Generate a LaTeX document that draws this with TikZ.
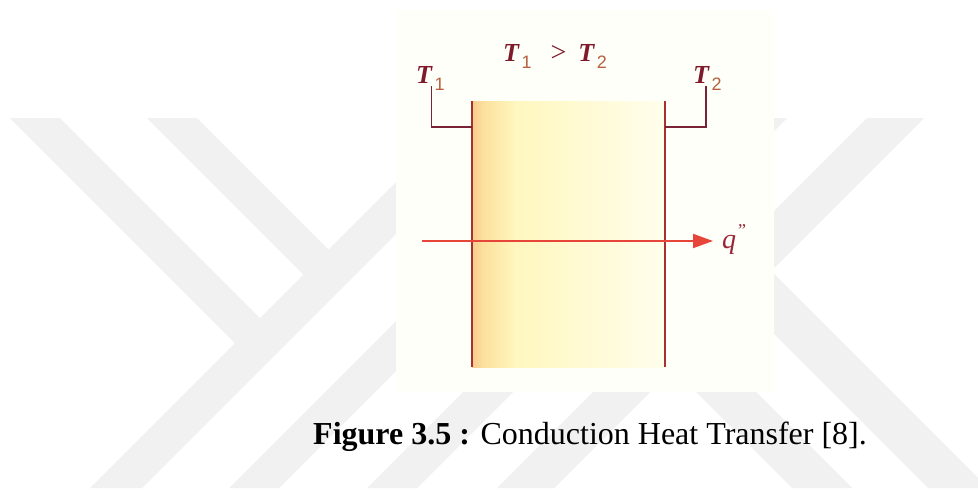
\documentclass[tikz,border=0pt]{standalone}
\usepackage{fontspec}
\setmainfont{Liberation Serif}
\setsansfont{Liberation Sans}
\usetikzlibrary{arrows.meta}
\definecolor{wm}{HTML}{F1F1F1}
\definecolor{panel}{HTML}{FFFFF9}
\definecolor{wallc}{HTML}{A8302E}
\definecolor{brk}{HTML}{7A2236}
\definecolor{flowc}{HTML}{E8453A}
\definecolor{tcol}{HTML}{7E1A2C}
\definecolor{subcol}{HTML}{B8603E}
\definecolor{qcol}{HTML}{9A2636}
\definecolor{fA}{HTML}{F6CB8E}
\definecolor{fB}{HTML}{FCDF9C}
\definecolor{fC}{HTML}{FFF7BF}
\definecolor{fD}{HTML}{FFFEEC}
\newcommand{\Tlab}[1]{\textit{T}\kern2.5pt\raisebox{-7pt}{\fontsize{18}{18}\selectfont\mdseries\sffamily\upshape\color{subcol}#1}}
\tikzset{
  wmark/.style={fill=wm, draw=none},
  wall/.style={draw=wallc, line width=2.2pt},
  bracket/.style={draw=brk, line width=1.6pt},
  flow/.style={draw=flowc, line width=2pt, -{Triangle[length=20pt,width=14pt]}},
  lab/.style={inner sep=0pt, text=tcol, font=\fontsize{26}{26}\selectfont\bfseries\itshape},
  qlab/.style={inner sep=0pt, text=qcol, font=\fontsize{28}{28}\selectfont\itshape},
  caplab/.style={inner sep=0pt, text=black, font=\fontsize{32}{38}\selectfont}
}
\begin{document}
\begin{tikzpicture}[x=1pt,y=-1pt]
\useasboundingbox (0,0) rectangle (978,490);
\fill[white] (0,0) rectangle (978,490);
% watermark
\begin{scope}
\clip (0,0) rectangle (978,490);
\fill[wmark] (10,118) -- (60,118) -- (273,331) -- (248,356) -- cycle;
\fill[wmark] (147,118) -- (197,118) -- (341.5,262.5) -- (316.5,287.5) -- cycle;
\fill[wmark] (460,118) -- (512,118) -- (142,488) -- (90,488) -- cycle;
\fill[wmark] (599,118) -- (649,118) -- (279,488) -- (229,488) -- cycle;
\fill[wmark] (737,118) -- (787,118) -- (417,488) -- (367,488) -- cycle;
\fill[wmark] (867,118) -- (924,118) -- (554,488) -- (497,488) -- cycle;
\fill[wmark] (658.5,354.5) -- (688.5,324.5) -- (852,488) -- (792,488) -- cycle;
\fill[wmark] (726.5,286.5) -- (756.5,256.5) -- (988,488) -- (928,488) -- cycle;
\end{scope}
% panel
\fill[panel] (396,10) rectangle (774,392);
% slab
\coordinate (wlt) at (472,101);
\coordinate (wlb) at (472,367);
\coordinate (wrt) at (665,101);
\coordinate (wrb) at (665,367);
\shade[left color=fA, right color=fB] (472,101) rectangle (482.5,367);
\shade[left color=fB, right color=fC] (482,101) rectangle (515.5,367);
\shade[left color=fC, right color=fD] (515,101) rectangle (665,367);
\draw[wall] (wlt) -- (wlb);
\draw[wall] (wrt) -- (wrb);
% brackets
\coordinate (jl) at (472,127);
\coordinate (bl) at (431.5,86);
\coordinate (jr) at (665,127);
\coordinate (br) at (706,86);
\draw[bracket] (bl) |- (jl);
\draw[bracket] (jr) -| (br);
% heat flow arrow
\coordinate (ain) at (422,241);
\coordinate (aout) at (713,241);
\draw[flow] (ain) -- (aout);
% labels
\node[lab, anchor=base west] (t1) at (416,83) {\Tlab{1}};
\node[lab, anchor=base west] (t2) at (693,83) {\Tlab{2}};
\node[lab, anchor=base west] (rel) at (503,61) {\Tlab{1}\hspace{19pt}{\mdseries\upshape\fontsize{28}{28}\selectfont >}\hspace{12pt}\Tlab{2}};
\node[qlab, anchor=base west] (q) at (722,248) {q\kern2pt\raisebox{12pt}{\fontsize{18}{18}\selectfont\upshape ''}};
% caption
\node[caplab, anchor=base west] (cap) at (313,444) {\textbf{Figure 3.5 :} Conduction Heat Transfer [8].};
\end{tikzpicture}
\end{document}
